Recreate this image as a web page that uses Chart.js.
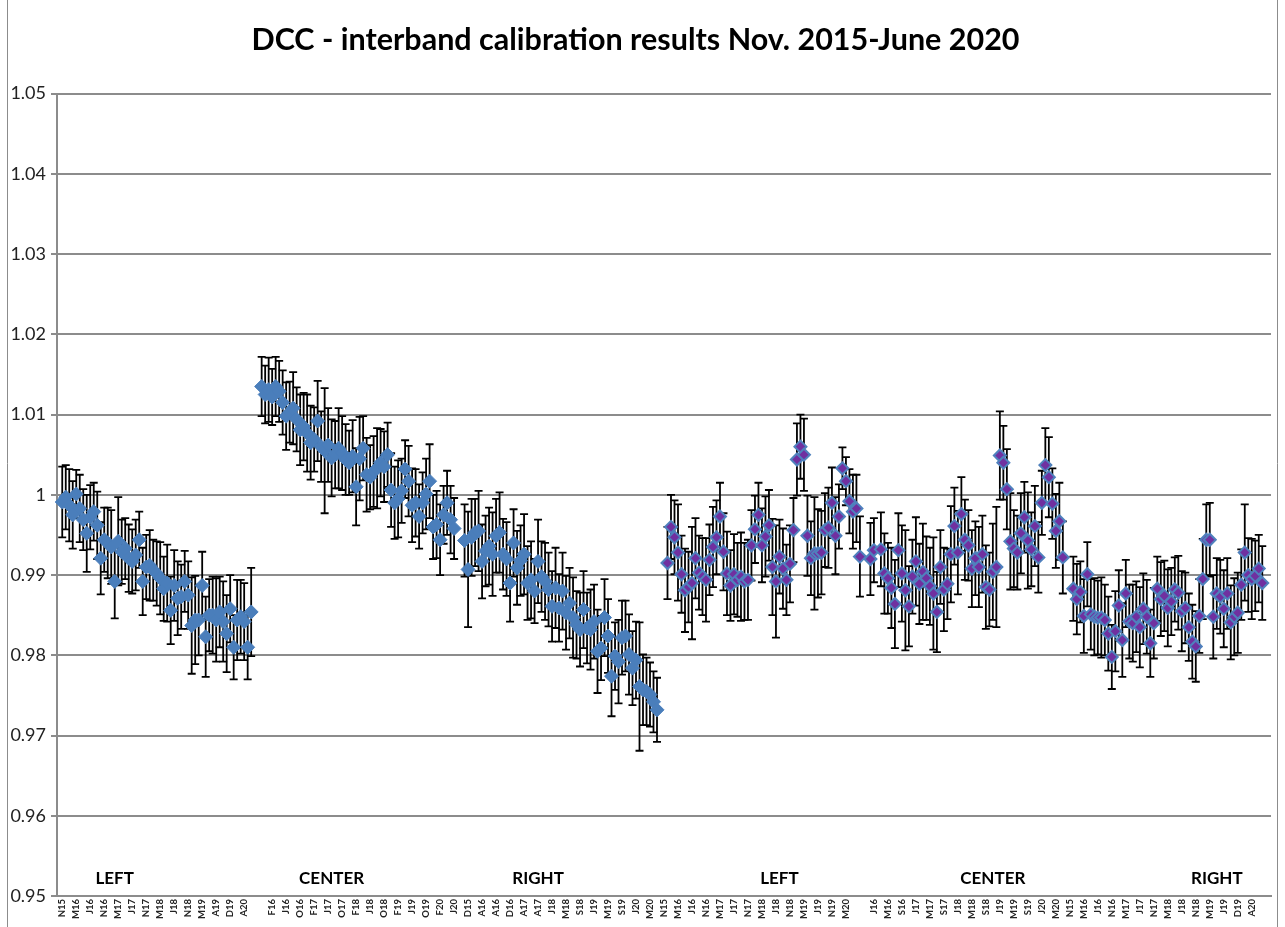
<!DOCTYPE html>
<html>
<head>
<meta charset="utf-8">
<script src="https://cdn.jsdelivr.net/npm/chart.js@4.4.0/dist/chart.umd.min.js"></script>
<style>
  html, body { margin: 0; background: #fff; }
  #wrap { width: 1285px; height: 927px; }
</style>
</head>
<body>
<div id="wrap"><canvas id="myChart"></canvas></div>
<script>
// one category per month, six blocks side by side
const nCategories = 347

// a tick label every 4th category (index 1, 5, 9, ...)
const tickLabels = [
  'N15','M16','J16','N16','M17','J17','N17','M18','J18','N18','M19','A19','D19','A20', '',
  'F16','J16','O16','F17','J17','O17','F18','J18','O18','F19','J19','O19','F20','J20',
  'D15','A16','A16','D16','A17','A17','J18','M18','S18','J19','M19','S19','J20','M20',
  'N15','M16','J16','N16','M17','J17','N17','M18','J18','N18','M19','J19','N19','M20', '',
  'J16','M16','S16','J17','M17','S17','J18','M18','S18','J19','M19','S19','J20','M20',
  'N15','M16','J16','N16','M17','J17','N17','M18','J18','N18','M19','J19','D19','A20'
]

const groupNames = ['LEFT', 'CENTER', 'RIGHT', 'LEFT', 'CENTER', 'RIGHT']
const groupNameAt = [16, 78, 137, 206, 267, 331]

// first category of each block
const groupStart = [1, 58, 116, 174, 232, 290]

const leftA = [
  0.9991, 0.9997, 0.9987, 0.9975, 1.0001, 0.9983, 0.9969, 0.9952, 0.9972, 0.9979,
  0.9962, 0.9921, 0.9944, 0.9940, 0.9935, 0.9892, 0.9942, 0.9929, 0.9933, 0.9921,
  0.9917, 0.9925, 0.9944, 0.9892, 0.9910, 0.9912, 0.9906, 0.9902, 0.9896, 0.9883,
  0.9890, 0.9856, 0.9887, 0.9871, 0.9873, 0.9892, 0.9875, 0.9837, 0.9844, 0.9844,
  0.9887, 0.9823, 0.9850, 0.9850, 0.9844, 0.9854, 0.9842, 0.9827, 0.9858, 0.9810,
  0.9844, 0.9848, 0.9842, 0.9810, 0.9854
]
const leftAErr = [
  0.0044, 0.0040, 0.0045, 0.0042, 0.0030, 0.0042, 0.0038, 0.0048, 0.0040, 0.0036,
  0.0042, 0.0045, 0.0040, 0.0044, 0.0046, 0.0046, 0.0055, 0.0040, 0.0038, 0.0042,
  0.0040, 0.0044, 0.0035, 0.0042, 0.0040, 0.0044, 0.0038, 0.0040, 0.0045, 0.0040,
  0.0048, 0.0042, 0.0044, 0.0046, 0.0040, 0.0038, 0.0042, 0.0060, 0.0055, 0.0044,
  0.0042, 0.0050, 0.0045, 0.0048, 0.0052, 0.0044, 0.0050, 0.0048, 0.0042, 0.0040,
  0.0050, 0.0046, 0.0048, 0.0040, 0.0055
]

const centerA = [
  1.0135, 1.0125, 1.0131, 1.0122, 1.0135, 1.0129, 1.0115, 1.0098, 1.0103, 1.0108,
  1.0094, 1.0081, 1.0085, 1.0077, 1.0065, 1.0069, 1.0092, 1.0060, 1.0055, 1.0062,
  1.0046, 1.0050, 1.0058, 1.0052, 1.0044, 1.0040, 1.0048, 1.0010, 1.0045, 1.0058,
  1.0025, 1.0022, 1.0029, 1.0033, 1.0040, 1.0035, 1.0050, 1.0006, 0.9990, 0.9995,
  1.0005, 1.0032, 1.0017, 0.9987, 0.9990, 0.9973, 0.9990, 1.0001, 1.0017, 0.9960,
  0.9963, 0.9944, 0.9975, 0.9990, 0.9969, 0.9958
]
const centerAErr = [
  0.0037, 0.0036, 0.0040, 0.0035, 0.0037, 0.0038, 0.0040, 0.0042, 0.0038, 0.0045,
  0.0040, 0.0044, 0.0042, 0.0048, 0.0046, 0.0040, 0.0050, 0.0044, 0.0078, 0.0046,
  0.0048, 0.0042, 0.0050, 0.0046, 0.0044, 0.0040, 0.0045, 0.0048, 0.0052, 0.0040,
  0.0046, 0.0040, 0.0044, 0.0050, 0.0042, 0.0044, 0.0040, 0.0046, 0.0045, 0.0048,
  0.0040, 0.0036, 0.0044, 0.0046, 0.0042, 0.0040, 0.0038, 0.0044, 0.0046, 0.0040,
  0.0042, 0.0044, 0.0036, 0.0040, 0.0042, 0.0038
]

const rightA = [
  0.9943, 0.9907, 0.9947, 0.9953, 0.9955, 0.9917, 0.9930, 0.9936, 0.9926, 0.9949,
  0.9953, 0.9926, 0.9920, 0.9890, 0.9940, 0.9909, 0.9918, 0.9926, 0.9890, 0.9894,
  0.9880, 0.9917, 0.9898, 0.9892, 0.9882, 0.9861, 0.9884, 0.9859, 0.9880, 0.9853,
  0.9865, 0.9847, 0.9838, 0.9832, 0.9857, 0.9834, 0.9832, 0.9842, 0.9805, 0.9809,
  0.9847, 0.9824, 0.9774, 0.9799, 0.9792, 0.9822, 0.9824, 0.9801, 0.9784, 0.9794,
  0.9761, 0.9757, 0.9755, 0.9751, 0.9742, 0.9732
]
const rightAErr = [
  0.0045, 0.0072, 0.0048, 0.0042, 0.0050, 0.0046, 0.0044, 0.0048, 0.0052, 0.0046,
  0.0050, 0.0044, 0.0046, 0.0048, 0.0042, 0.0046, 0.0044, 0.0050, 0.0046, 0.0048,
  0.0040, 0.0052, 0.0044, 0.0048, 0.0046, 0.0044, 0.0050, 0.0042, 0.0048, 0.0046,
  0.0044, 0.0050, 0.0042, 0.0046, 0.0048, 0.0044, 0.0050, 0.0046, 0.0052, 0.0040,
  0.0048, 0.0046, 0.0050, 0.0042, 0.0052, 0.0046, 0.0044, 0.0050, 0.0046, 0.0048,
  0.0080, 0.0044, 0.0042, 0.0040, 0.0038, 0.0040
]

const leftB = [
  0.9915, 0.9960, 0.9947, 0.9928, 0.9901, 0.9881, 0.9885, 0.9890, 0.9921, 0.9903,
  0.9898, 0.9894, 0.9919, 0.9935, 0.9947, 0.9973, 0.9929, 0.9902, 0.9887, 0.9901,
  0.9894, 0.9898, 0.9892, 0.9894, 0.9937, 0.9957, 0.9975, 0.9937, 0.9948, 0.9962,
  0.9910, 0.9892, 0.9923, 0.9908, 0.9894, 0.9914, 0.9956, 1.0044, 1.0060, 1.0050,
  0.9949, 0.9921, 0.9927, 0.9927, 0.9928, 0.9956, 0.9959, 0.9990, 0.9949, 0.9973,
  1.0033, 1.0017, 0.9992, 0.9979, 0.9983, 0.9923
]
const leftBErr = [
  0.0045, 0.0040, 0.0046, 0.0060, 0.0048, 0.0052, 0.0044, 0.0070, 0.0050, 0.0046,
  0.0048, 0.0052, 0.0044, 0.0050, 0.0046, 0.0042, 0.0048, 0.0052, 0.0044, 0.0050,
  0.0046, 0.0055, 0.0048, 0.0050, 0.0044, 0.0042, 0.0040, 0.0046, 0.0050, 0.0044,
  0.0060, 0.0070, 0.0046, 0.0050, 0.0044, 0.0048, 0.0040, 0.0045, 0.0040, 0.0045,
  0.0050, 0.0046, 0.0070, 0.0055, 0.0052, 0.0046, 0.0050, 0.0044, 0.0048, 0.0040,
  0.0026, 0.0030, 0.0040, 0.0046, 0.0042, 0.0050
]

const centerB = [
  0.9920, 0.9931, null,   0.9932, 0.9902, 0.9896, 0.9884, 0.9864, 0.9931, 0.9902,
  0.9881, 0.9861, 0.9898, 0.9917, 0.9889, 0.9904, 0.9896, 0.9886, 0.9877, 0.9854,
  0.9910, 0.9882, 0.9889, 0.9926, 0.9961, 0.9928, 0.9976, 0.9944, 0.9937, 0.9908,
  0.9921, 0.9910, 0.9926, 0.9885, 0.9882, 0.9904, 0.9910, 1.0049, 1.0040, 1.0007,
  0.9942, 0.9933, 0.9928, 0.9952, 0.9972, 0.9943, 0.9932, 0.9961, 0.9922, 0.9990,
  1.0037, 1.0022, 0.9989, 0.9955, 0.9967, 0.9922
]
const centerBErr = [
  0.0045, 0.0040, null,   0.0046, 0.0050, 0.0044, 0.0050, 0.0055, 0.0046, 0.0060,
  0.0075, 0.0050, 0.0046, 0.0055, 0.0050, 0.0060, 0.0052, 0.0048, 0.0070, 0.0050,
  0.0046, 0.0052, 0.0044, 0.0060, 0.0048, 0.0052, 0.0046, 0.0050, 0.0044, 0.0048,
  0.0046, 0.0050, 0.0048, 0.0052, 0.0046, 0.0060, 0.0075, 0.0055, 0.0046, 0.0050,
  0.0060, 0.0048, 0.0046, 0.0050, 0.0044, 0.0060, 0.0046, 0.0050, 0.0044, 0.0040,
  0.0046, 0.0050, 0.0044, 0.0046, 0.0048, 0.0045
]

const rightB = [
  0.9883, 0.9870, 0.9879, 0.9849, 0.9901, 0.9851, 0.9848, 0.9847, 0.9847, 0.9844,
  0.9827, 0.9798, 0.9830, 0.9862, 0.9819, 0.9877, 0.9842, 0.9840, 0.9848, 0.9835,
  0.9858, 0.9848, 0.9815, 0.9840, 0.9883, 0.9870, 0.9874, 0.9859, 0.9867, 0.9882,
  0.9878, 0.9855, 0.9859, 0.9835, 0.9817, 0.9811, 0.9849, 0.9895, 0.9944, 0.9944,
  0.9848, 0.9877, 0.9873, 0.9858, 0.9877, 0.9841, 0.9848, 0.9853, 0.9888, 0.9928,
  0.9900, 0.9895, 0.9899, 0.9908, 0.9890
]
const rightBErr = [
  0.0040, 0.0044, 0.0038, 0.0046, 0.0040, 0.0044, 0.0048, 0.0046, 0.0050, 0.0044,
  0.0046, 0.0040, 0.0050, 0.0044, 0.0046, 0.0042, 0.0046, 0.0048, 0.0044, 0.0050,
  0.0044, 0.0046, 0.0042, 0.0044, 0.0040, 0.0046, 0.0044, 0.0048, 0.0042, 0.0040,
  0.0046, 0.0050, 0.0044, 0.0042, 0.0046, 0.0044, 0.0046, 0.0050, 0.0044, 0.0046,
  0.0052, 0.0044, 0.0046, 0.0048, 0.0044, 0.0046, 0.0048, 0.0050, 0.0044, 0.0060,
  0.0046, 0.0050, 0.0044, 0.0042, 0.0046
]

// category labels, mostly blank
const labels = new Array(nCategories).fill('')
tickLabels.forEach((t, k) => { labels[1 + 4 * k] = t })

function place(blocks) {
  const vals = new Array(nCategories).fill(null)
  const errs = new Array(nCategories).fill(null)
  blocks.forEach(([start, v, e]) => {
    v.forEach((val, i) => { vals[start + i] = val; errs[start + i] = e[i] })
  })
  return [vals, errs]
}

const [series1, series1Err] = place([
  [groupStart[0], leftA, leftAErr],
  [groupStart[1], centerA, centerAErr],
  [groupStart[2], rightA, rightAErr]
])
const [series2, series2Err] = place([
  [groupStart[3], leftB, leftBErr],
  [groupStart[4], centerB, centerBErr],
  [groupStart[5], rightB, rightBErr]
])

// black error bars drawn under the markers
const errorBars = {
  id: 'errorBars',
  beforeDatasetsDraw(chart) {
    const ctx = chart.ctx
    const y = chart.scales.y
    ctx.save()
    ctx.strokeStyle = '#000'
    ctx.lineWidth = 1.8
    chart.data.datasets.forEach((ds, di) => {
      const meta = chart.getDatasetMeta(di)
      meta.data.forEach((pt, i) => {
        const v = ds.data[i], e = ds.errors[i]
        if (v == null || e == null) return
        const top = y.getPixelForValue(v + e)
        const bot = y.getPixelForValue(v - e)
        ctx.beginPath()
        ctx.moveTo(pt.x, top); ctx.lineTo(pt.x, bot)
        ctx.moveTo(pt.x - 4, top); ctx.lineTo(pt.x + 4, top)
        ctx.moveTo(pt.x - 4, bot); ctx.lineTo(pt.x + 4, bot)
        ctx.stroke()
      })
    })
    ctx.restore()
  }
}

// LEFT / CENTER / RIGHT captions + outer frame
const captions = {
  id: 'captions',
  afterDraw(chart) {
    const ctx = chart.ctx
    const x = chart.scales.x, y = chart.scales.y
    ctx.save()
    ctx.fillStyle = '#000'
    ctx.font = 'bold 17px Lato'
    ctx.textAlign = 'center'
    ctx.textBaseline = 'middle'
    groupNames.forEach((n, i) => {
      ctx.fillText(n, x.getPixelForValue(groupNameAt[i]), y.getPixelForValue(0.9522))
    })
    ctx.strokeStyle = '#8c8c8c'
    ctx.lineWidth = 1
    ctx.beginPath()
    ctx.moveTo(7.5, 0); ctx.lineTo(7.5, chart.height)
    ctx.moveTo(1277.5, 0); ctx.lineTo(1277.5, chart.height)
    ctx.stroke()
    ctx.restore()
  }
}

const ctx = document.getElementById('myChart')

const myChart = new Chart(ctx, {
  type: 'line',
  data: {
    labels,
    datasets: [
      {
        data: series1,
        errors: series1Err,
        showLine: false,
        pointStyle: 'rectRot',
        pointRadius: 7,
        backgroundColor: 'rgb(74, 126, 187)',
        borderColor: 'rgb(74, 126, 187)',
        borderWidth: 1
      },
      {
        data: series2,
        errors: series2Err,
        showLine: false,
        pointStyle: 'rectRot',
        pointRadius: 6,
        backgroundColor: 'rgb(112, 48, 160)',
        borderColor: 'rgb(79, 129, 189)',
        borderWidth: 2
      }
    ]
  },
  options: {
    responsive: true,
    maintainAspectRatio: false,
    animation: false,
    layout: { padding: { top: 0, right: 14, left: 0, bottom: 0 } },
    plugins: {
      legend: { display: false },
      tooltip: { enabled: false },
      title: {
        display: true,
        text: 'DCC - interband calibration results Nov. 2015-June 2020',
        color: '#000',
        font: { family: 'Lato', size: 30.5, weight: 'bold' },
        padding: { top: 22, bottom: 35 }
      }
    },
    scales: {
      x: {
        type: 'category',
        offset: true,
        grid: { display: false, drawTicks: false },
        border: { display: true, color: '#8c8c8c', width: 2 },
        ticks: {
          autoSkip: false,
          maxRotation: 90,
          minRotation: 90,
          padding: 3,
          color: '#222',
          font: { family: 'Lato', size: 9.5, weight: 'bold' }
        },
        afterFit(s) { s.height = 31 }
      },
      y: {
        min: 0.95,
        max: 1.05,
        grid: { color: '#8c8c8c', lineWidth: 2, tickLength: 6 },
        border: { color: '#8c8c8c', width: 2 },
        ticks: {
          stepSize: 0.01,
          padding: 5,
          color: '#222',
          font: { family: 'Lato', size: 18 },
          callback: v => String(Number(v.toFixed(2)))
        },
        afterFit(s) { s.width = 57 }
      }
    }
  },
  plugins: [errorBars, captions]
})
</script>
</body>
</html>
